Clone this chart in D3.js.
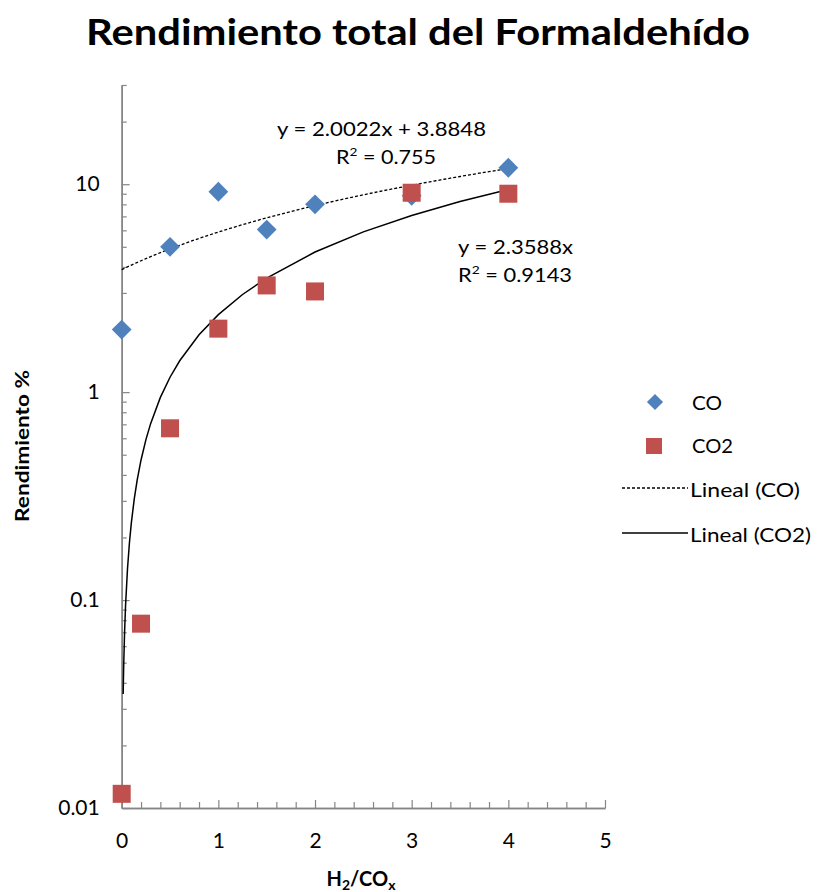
<!DOCTYPE html>
<html>
<head>
<meta charset="utf-8">
<script src="https://cdn.jsdelivr.net/npm/d3@7"></script>
<style>
  html, body { margin: 0; padding: 0; background: #ffffff; }
  svg { display: block; font-family: Lato, "Open Sans", sans-serif; }
</style>
</head>
<body>
<svg id="chart" width="817" height="892"></svg>
<script>
// Formaldehyde yield vs H2/COx feed ratio
const coX = [0, 0.5, 1, 1.5, 2, 3, 4];
const coY = [2.0, 5.0, 9.2, 6.05, 8.0, 8.8, 12.0];
const co2X = [0, 0.2, 0.5, 1, 1.5, 2, 3, 4];
const co2Y = [0.0117, 0.077, 0.67, 2.02, 3.26, 3.05, 9.1, 9.0];

// Trend line coefficients (linear fits)
const coFit = { slope: 2.0022, intercept: 3.8848, r2: "0.755" };
const co2Fit = { slope: 2.3588, intercept: 0, r2: "0.9143" };

const xTickValues = [0, 1, 2, 3, 4, 5];
const xTickLabels = ["0", "1", "2", "3", "4", "5"];
const yTickValues = [0.01, 0.1, 1, 10];
const yTickLabels = ["0.01", "0.1", "1", "10"];

const seriesNames = ["CO", "CO2", "Lineal (CO)", "Lineal (CO2)"];
const titleText = "Rendimiento total del Formaldehído";

const svg = d3.select("#chart");
const axisColor = "#868686";

const x = d3.scaleLinear().domain([0, 5]).range([121.7, 605]);
const y = d3.scaleLog().domain([0.01, 30]).range([808, 85]);

// Title
svg.append("text")
  .attr("x", 418).attr("y", 45)
  .attr("text-anchor", "middle")
  .attr("font-size", 37).attr("font-weight", "bold")
  .attr("textLength", 664).attr("lengthAdjust", "spacingAndGlyphs")
  .text(titleText);

// Minor ticks
const yMinor = [];
[0.01, 0.1, 1, 10].forEach(d => { for (let k = 2; k <= 9; k++) { const v = d * k; if (v <= 30) yMinor.push(v); } });
const xMinor = d3.range(0, 5.0001, 0.2).filter(v => Math.abs(v - Math.round(v)) > 1e-6);

const gy = svg.append("g").attr("transform", `translate(${x(0)},0)`);
gy.call(d3.axisLeft(y).tickValues(yMinor).tickSizeInner(-5).tickSizeOuter(0).tickFormat(""));
const gyMajor = svg.append("g").attr("transform", `translate(${x(0)},0)`);
gyMajor.call(d3.axisLeft(y).tickValues(yTickValues).tickSizeInner(-8).tickSizeOuter(0).tickPadding(22)
  .tickFormat((d, i) => yTickLabels[i]));

const gx = svg.append("g").attr("transform", `translate(0,${y(0.01)})`);
gx.call(d3.axisBottom(x).tickValues(xMinor).tickSizeInner(-6).tickSizeOuter(0).tickFormat(""));
const gxMajor = svg.append("g").attr("transform", `translate(0,${y(0.01)})`);
gxMajor.call(d3.axisBottom(x).tickValues(xTickValues).tickSizeInner(-8).tickSizeOuter(0).tickPadding(25)
  .tickFormat((d, i) => xTickLabels[i]));

svg.selectAll(".domain").attr("stroke", axisColor).attr("stroke-width", 1.5);
svg.selectAll(".tick line").attr("stroke", axisColor).attr("stroke-width", 1.2);
svg.selectAll(".tick text").attr("font-size", 21).attr("fill", "#000").attr("font-family", "Lato, sans-serif");

// Axis titles
svg.append("text")
  .attr("transform", "translate(29,446) rotate(-90)")
  .attr("text-anchor", "middle")
  .attr("font-size", 19).attr("font-weight", "bold")
  .attr("textLength", 152).attr("lengthAdjust", "spacingAndGlyphs")
  .text("Rendimiento %");

const xt = svg.append("text")
  .attr("x", 361).attr("y", 886)
  .attr("text-anchor", "middle")
  .attr("font-size", 20).attr("font-weight", "bold");
xt.append("tspan").text("H");
xt.append("tspan").attr("font-size", 14).attr("dy", 4).text("2");
xt.append("tspan").attr("dy", -4).text("/CO");
xt.append("tspan").attr("font-size", 14).attr("dy", 4).text("x");

// Trend lines
const line = d3.line().x(d => x(d[0])).y(d => y(d[1]));
const coLine = d3.range(0, 4.0001, 0.05).map(v => [v, coFit.slope * v + coFit.intercept]);
svg.append("path").attr("d", line(coLine))
  .attr("fill", "none").attr("stroke", "#000").attr("stroke-width", 1.3)
  .attr("stroke-dasharray", "3,2");

const co2Samples = [0.015, 0.02, 0.03, 0.04, 0.06, 0.08, 0.1, 0.13, 0.16, 0.2, 0.25, 0.3, 0.4, 0.5, 0.6, 0.8, 1, 1.25, 1.5, 2, 2.5, 3, 3.5, 4];
const co2Line = co2Samples.map(v => [v, co2Fit.slope * v + co2Fit.intercept]);
svg.append("path").attr("d", line(co2Line))
  .attr("fill", "none").attr("stroke", "#000").attr("stroke-width", 1.5);

// Markers
svg.append("g").selectAll("path").data(coX.map((v, i) => [v, coY[i]])).join("path")
  .attr("d", d3.symbol().type(d3.symbolSquare).size(196))
  .attr("transform", d => `translate(${x(d[0])},${y(d[1])}) rotate(45)`)
  .attr("fill", "#4F81BD");

svg.append("g").selectAll("rect").data(co2X.map((v, i) => [v, co2Y[i]])).join("rect")
  .attr("x", d => x(d[0]) - 9).attr("y", d => y(d[1]) - 9)
  .attr("width", 18).attr("height", 18)
  .attr("fill", "#C0504D");

// Trend equations
const eq = svg.append("g").attr("font-size", 19).attr("fill", "#000");
eq.append("text").attr("x", 277).attr("y", 136)
  .attr("textLength", 209).attr("lengthAdjust", "spacingAndGlyphs")
  .text(`y = ${coFit.slope}x + ${coFit.intercept}`);
const r1 = eq.append("text").attr("x", 336).attr("y", 164)
  .attr("textLength", 100).attr("lengthAdjust", "spacingAndGlyphs");
r1.append("tspan").text("R");
r1.append("tspan").attr("font-size", 12).attr("dy", -8).text("2");
r1.append("tspan").attr("dy", 8).text(` = ${coFit.r2}`);

eq.append("text").attr("x", 458).attr("y", 254)
  .attr("textLength", 115).attr("lengthAdjust", "spacingAndGlyphs")
  .text(`y = ${co2Fit.slope}x`);
const r2 = eq.append("text").attr("x", 458).attr("y", 282)
  .attr("textLength", 114).attr("lengthAdjust", "spacingAndGlyphs");
r2.append("tspan").text("R");
r2.append("tspan").attr("font-size", 12).attr("dy", -8).text("2");
r2.append("tspan").attr("dy", 8).text(` = ${co2Fit.r2}`);

// Legend
const lg = svg.append("g").attr("font-size", 20);
lg.append("path").attr("d", d3.symbol().type(d3.symbolSquare).size(130))
  .attr("transform", "translate(655,402) rotate(45)").attr("fill", "#4F81BD");
lg.append("rect").attr("x", 646).attr("y", 438).attr("width", 16).attr("height", 16).attr("fill", "#C0504D");
lg.append("line").attr("x1", 622).attr("x2", 688).attr("y1", 488).attr("y2", 488)
  .attr("stroke", "#000").attr("stroke-width", 1.3).attr("stroke-dasharray", "3,2");
lg.append("line").attr("x1", 622).attr("x2", 688).attr("y1", 533).attr("y2", 533)
  .attr("stroke", "#000").attr("stroke-width", 1.5);
const lyBase = [410, 453, 497, 542];
const lxStart = [692, 692, 690, 690];
const lWidth = [30, 41, 110, 121];
seriesNames.forEach((n, i) => {
  lg.append("text").attr("x", lxStart[i]).attr("y", lyBase[i])
    .attr("textLength", lWidth[i]).attr("lengthAdjust", "spacingAndGlyphs")
    .text(n);
});
</script>
</body>
</html>
